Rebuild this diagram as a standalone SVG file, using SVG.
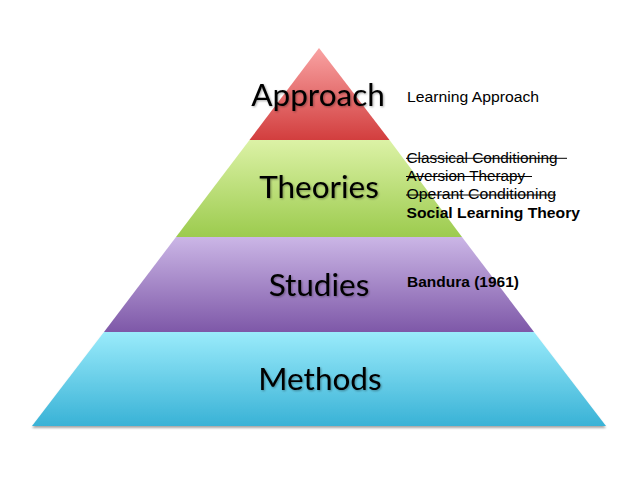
<svg xmlns="http://www.w3.org/2000/svg" width="638" height="479" viewBox="0 0 638 479">
<defs>
<linearGradient id="gRed" x1="0" y1="0" x2="0" y2="1"><stop offset="0" stop-color="#f9a3a3"/><stop offset="1" stop-color="#d23e3e"/></linearGradient>
<linearGradient id="gGreen" x1="0" y1="0" x2="0" y2="1"><stop offset="0" stop-color="#dcf2a6"/><stop offset="1" stop-color="#9ccb4e"/></linearGradient>
<linearGradient id="gPurple" x1="0" y1="0" x2="0" y2="1"><stop offset="0" stop-color="#cbb6e6"/><stop offset="1" stop-color="#7e58a8"/></linearGradient>
<linearGradient id="gBlue" x1="0" y1="0" x2="0" y2="1"><stop offset="0" stop-color="#9aebfb"/><stop offset="1" stop-color="#39b2d6"/></linearGradient>
<filter id="sh" x="-10%" y="-10%" width="120%" height="130%"><feGaussianBlur in="SourceAlpha" stdDeviation="1.2"/><feOffset dx="0" dy="2"/><feComponentTransfer><feFuncA type="linear" slope="0.35"/></feComponentTransfer><feMerge><feMergeNode/><feMergeNode in="SourceGraphic"/></feMerge></filter>
<filter id="tsh" x="-5%" y="-10%" width="110%" height="130%"><feGaussianBlur in="SourceAlpha" stdDeviation="0.8"/><feOffset dx="1" dy="1"/><feComponentTransfer><feFuncA type="linear" slope="0.35"/></feComponentTransfer><feMerge><feMergeNode/><feMergeNode in="SourceGraphic"/></feMerge></filter>
</defs>
<style>
.title{font-family:Lato,"Open Sans","Liberation Sans",sans-serif;font-size:31.5px;fill:#000;}
.lab{font-family:"Liberation Sans",Arial,sans-serif;font-size:15.2px;fill:#000;}
.bold{font-weight:bold;}
.strike{stroke:#000;stroke-width:1;}
</style>
<rect width="638" height="479" fill="#ffffff"/>
<g id="methods">
<polygon points="104,332 534,332 606,426 32,426" fill="url(#gBlue)" filter="url(#sh)"/>
<text class="title" x="320" y="390" text-anchor="middle" filter="url(#tsh)">Methods</text>
</g>
<g id="studies">
<polygon points="176,237 462,237 534,332 104,332" fill="url(#gPurple)"/>
<text class="title" x="319" y="296" text-anchor="middle" filter="url(#tsh)">Studies</text>
<text class="lab bold" x="407" y="287" textLength="112" lengthAdjust="spacingAndGlyphs">Bandura (1961)</text>
</g>
<g id="theories">
<polygon points="249.5,140 389.5,140 462,237 176,237" fill="url(#gGreen)"/>
<text class="title" x="319" y="198" text-anchor="middle" filter="url(#tsh)">Theories</text>
<text class="lab" x="406.5" y="162.5" textLength="151" lengthAdjust="spacingAndGlyphs">Classical Conditioning</text>
<line class="strike" x1="406" y1="158.3" x2="567" y2="158.3"/>
<text class="lab" x="406.5" y="180.8" textLength="118.5" lengthAdjust="spacingAndGlyphs">Aversion Therapy</text>
<line class="strike" x1="406" y1="176.5" x2="532" y2="176.5"/>
<text class="lab" x="406.5" y="199.2" textLength="149.5" lengthAdjust="spacingAndGlyphs">Operant Conditioning</text>
<line class="strike" x1="406" y1="195" x2="556" y2="195"/>
<text class="lab bold" x="406.5" y="217.6" textLength="173.5" lengthAdjust="spacingAndGlyphs">Social Learning Theory</text>
</g>
<g id="approach">
<polygon points="319,48 389.5,140 249.5,140" fill="url(#gRed)"/>
<text class="title" x="318" y="106" text-anchor="middle" filter="url(#tsh)">Approach</text>
<text class="lab" x="407" y="101.7" textLength="132" lengthAdjust="spacingAndGlyphs">Learning Approach</text>
</g>
<g id="connectors"/>
</svg>
